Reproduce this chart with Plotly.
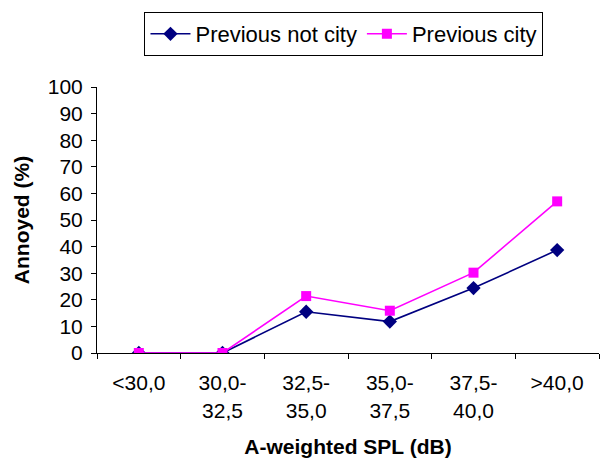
import plotly.graph_objects as go

# Noise level bands (A-weighted SPL, dB)
bands = ["<30,0", "30,0-<br>32,5", "32,5-<br>35,0", "35,0-<br>37,5", "37,5-<br>40,0", ">40,0"]

# Percentage annoyed per group
previous_not_city = [0.0, 0.0, 15.5, 11.8, 24.4, 38.7]
previous_city = [0.0, 0.0, 21.4, 15.9, 30.2, 57.0]

FONT = "Liberation Sans, Arial, sans-serif"

fig = go.Figure()
fig.add_trace(go.Scatter(
    x=bands, y=previous_not_city, name="Previous not city",
    mode="lines+markers",
    line=dict(color="#000080", width=1.6),
    marker=dict(symbol="diamond", size=11, color="#000080"),
))
fig.add_trace(go.Scatter(
    x=bands, y=previous_city, name="Previous city",
    mode="lines+markers",
    line=dict(color="#FF00FF", width=1.6),
    marker=dict(symbol="square", size=10, color="#FF00FF"),
))

fig.update_layout(
    width=601, height=461,
    margin=dict(l=97, r=2, t=87, b=108),
    paper_bgcolor="white", plot_bgcolor="white",
    font=dict(family=FONT, size=21, color="black"),
    showlegend=True,
    legend=dict(
        orientation="h", x=0.492, xanchor="center", y=1.282, yanchor="top",
        bordercolor="black", borderwidth=1, bgcolor="white",
        font=dict(family=FONT, size=22, color="black"),
        itemwidth=40, tracegroupgap=0,
    ),
    xaxis=dict(
        type="category", range=[-0.5, 5.5],
        showline=True, linecolor="black", linewidth=1,
        ticks="outside", ticklen=5, tickcolor="black", tickson="boundaries",
        ticklabelstandoff=11,
        showgrid=False, zeroline=False,
        tickfont=dict(family=FONT, size=21, color="black"),
        title=dict(text="<b>A-weighted SPL (dB)</b>", standoff=18,
                   font=dict(family=FONT, size=21, color="black")),
    ),
    yaxis=dict(
        range=[0, 100], dtick=10,
        showline=True, linecolor="black", linewidth=1,
        ticks="outside", ticklen=5, tickcolor="black",
        ticklabelstandoff=4,
        showgrid=False, zeroline=False,
        tickfont=dict(family=FONT, size=21, color="black"),
        title=dict(text="<b>Annoyed (%)</b>", standoff=12,
                   font=dict(family=FONT, size=21, color="black")),
    ),
)

fig.write_html("out.html")
